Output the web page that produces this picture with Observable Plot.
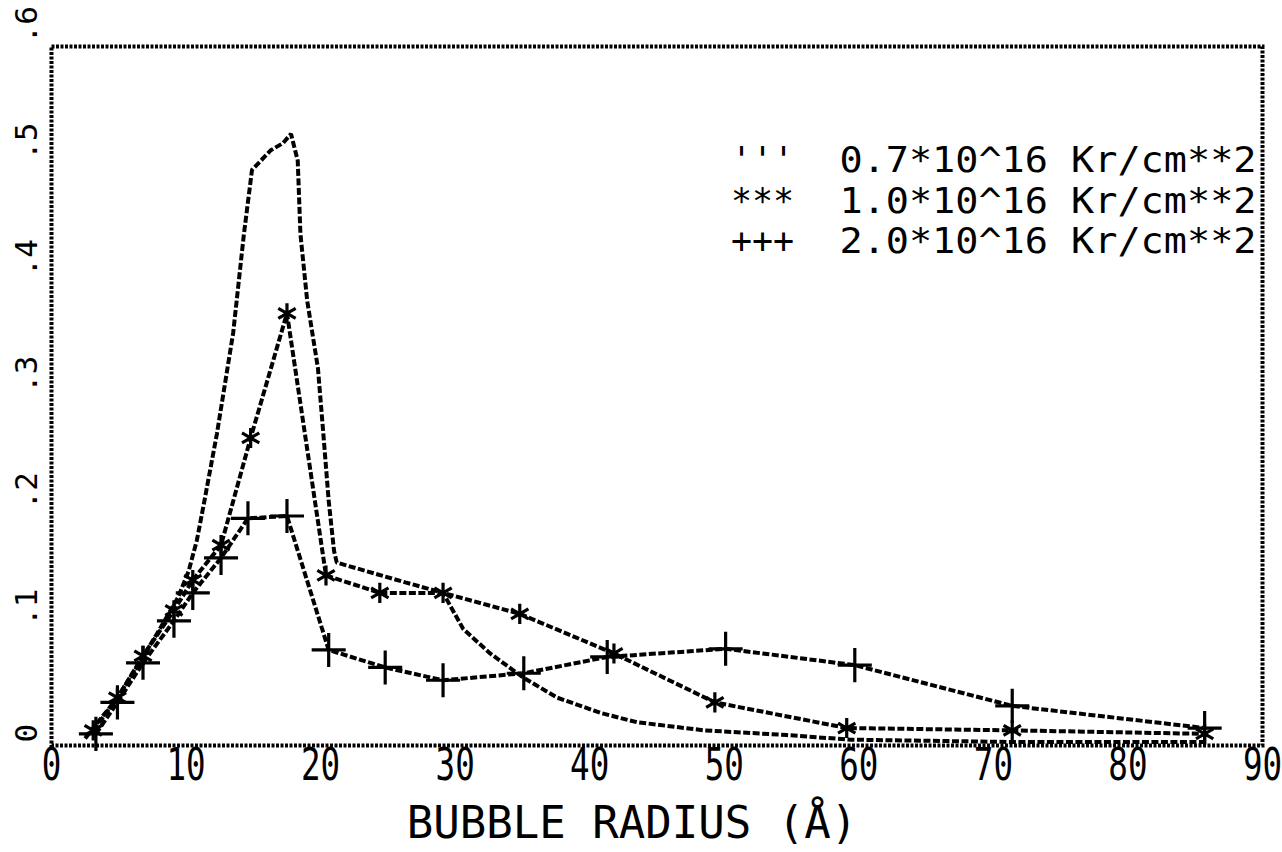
<!DOCTYPE html>
<html>
<head>
<meta charset="utf-8">
<script src="https://cdn.jsdelivr.net/npm/d3@7"></script>
<script src="https://cdn.jsdelivr.net/npm/@observablehq/plot@0.6"></script>
<style>
  html, body { margin: 0; padding: 0; background: #ffffff; }
  #chart svg { display: block; }
</style>
</head>
<body>
<div id="chart"></div>
<script>
// ---- data ----
// Series 0.7e16 Kr/cm**2 (dashed line, no visible markers)
const radiusA = [2.5, 3.1, 4.9, 6.8, 8.1, 9.4, 10.2, 10.8, 11.3, 12.3, 13.5, 14.3, 14.9, 16.3, 17.2, 17.8, 18.3, 18.5, 19.0, 19.8, 20.2, 20.6, 21.0, 21.2, 26.3, 29.1, 30.6, 32.6, 35.1, 37.6, 40.8, 43.5, 48.5, 54.6, 59.4, 71.4, 85.7];
const valueA  = [0.006, 0.015, 0.041, 0.076, 0.101, 0.127, 0.150, 0.176, 0.206, 0.268, 0.354, 0.439, 0.494, 0.511, 0.517, 0.525, 0.502, 0.439, 0.382, 0.324, 0.268, 0.210, 0.167, 0.157, 0.140, 0.131, 0.100, 0.079, 0.058, 0.041, 0.028, 0.020, 0.013, 0.009, 0.005, 0.003, 0.003];

// Series 1.0e16 Kr/cm**2 (asterisk markers)
const radiusB = [3.1, 4.9, 6.8, 9.1, 10.5, 12.6, 14.8, 17.5, 20.4, 24.4, 29.1, 34.8, 41.8, 49.3, 59.1, 71.4, 85.7];
const valueB  = [0.013, 0.041, 0.077, 0.116, 0.142, 0.172, 0.264, 0.371, 0.146, 0.131, 0.131, 0.113, 0.079, 0.037, 0.015, 0.013, 0.010];

// Series 2.0e16 Kr/cm**2 (plus markers)
const radiusC = [3.3, 4.9, 6.8, 9.1, 10.5, 12.6, 14.6, 17.5, 20.6, 24.8, 29.1, 35.1, 41.3, 50.1, 59.7, 71.4, 85.7];
const valueC  = [0.010, 0.037, 0.071, 0.107, 0.131, 0.161, 0.195, 0.197, 0.082, 0.067, 0.056, 0.062, 0.076, 0.083, 0.069, 0.034, 0.015];

const xTicks = [0, 10, 20, 30, 40, 50, 60, 70, 80, 90];
const yTicks = [0, 0.1, 0.2, 0.3, 0.4, 0.5, 0.6];
const yTickLabels = ["0", ".1", ".2", ".3", ".4", ".5", ".6"];
const xTitle = "BUBBLE RADIUS (Å)";
const legendSymbols = ["'''", "***", "+++"];
const legendLabels = ["0.7*10^16 Kr/cm**2", "1.0*10^16 Kr/cm**2", "2.0*10^16 Kr/cm**2"];

// ---- tables for the library ----
const rows = (xs, ys) => xs.map((x, i) => ({x, y: ys[i]}));
const A = rows(radiusA, valueA);
const B = rows(radiusB, valueB);
const C = rows(radiusC, valueC);

const FONT = "'DejaVu Sans Mono', 'Liberation Mono', monospace";
const lineStyle = {x: "x", y: "y", stroke: "black", strokeWidth: 4,
  strokeDasharray: "7,2.5", strokeLinecap: "butt", strokeLinejoin: "miter"};

const chart = Plot.plot({
  width: 1282,
  height: 852,
  marginLeft: 51,
  marginRight: 20,
  marginTop: 46,
  marginBottom: 107,
  x: {domain: [0, 90], axis: null},
  y: {domain: [0, 0.6], axis: null},
  style: {fontFamily: FONT, background: "white", color: "black"},
  marks: [
    Plot.frame({stroke: "black", strokeWidth: 4, strokeDasharray: "3,1.5"}),
    // x tick labels
    Plot.text(xTicks, {x: d => d, frameAnchor: "bottom", dy: 34, text: d => String(d),
      fontSize: 44, fill: "black"}),
    // y tick labels (rotated, starting just above each tick)
    Plot.text(yTicks, {y: d => d, frameAnchor: "left", dx: -24, dy: -3, rotate: -90,
      textAnchor: "start", text: (d, i) => yTickLabels[i], fontSize: 31, fill: "black"}),
    // x axis title
    Plot.text([xTitle], {frameAnchor: "bottom", dx: -25, dy: 92, fontSize: 44, fill: "black"}),
    // curves
    Plot.line(A, lineStyle),
    Plot.line(B, lineStyle),
    Plot.line(C, lineStyle),
    Plot.dot(B, {x: "x", y: "y", symbol: "asterisk", r: 9.5, stroke: "black", strokeWidth: 3.2}),
    Plot.dot(C, {x: "x", y: "y", symbol: "plus", r: 11, stroke: "black", strokeWidth: 3.2}),
    // legend
    Plot.text([legendSymbols.join("\n")], {frameAnchor: "top-right", dx: -500, dy: 96,
      textAnchor: "middle", lineAnchor: "top", lineHeight: 1.17, fontSize: 35, fill: "black"}),
    Plot.text([legendLabels.join("\n")], {frameAnchor: "top-right", dx: -6, dy: 96,
      textAnchor: "end", lineAnchor: "top", lineHeight: 1.17, fontSize: 35, fill: "black"})
  ]
});

// condensed / widened plotter characters (horizontal scale about each text's anchor)
function stretch(el, s) {
  const t = el.getAttribute("transform");
  if (t) {
    el.setAttribute("transform", t + ` scale(${s},1)`);
  } else {
    const x = +(el.getAttribute("x") || 0);
    el.setAttribute("transform", `translate(${x},0) scale(${s},1) translate(${-x},0)`);
  }
}
const tickStrings = xTicks.map(String);
const legendJoined = legendLabels.join("");
d3.select(chart).selectAll("text").each(function () {
  const t = this.getAttribute("transform") || "";
  const s = this.textContent;
  if (!t.includes("rotate") && tickStrings.includes(s)) stretch(this, 0.74);
  else if (s === legendJoined) stretch(this, 1.1);
});

document.getElementById("chart").appendChild(chart);
</script>
</body>
</html>
